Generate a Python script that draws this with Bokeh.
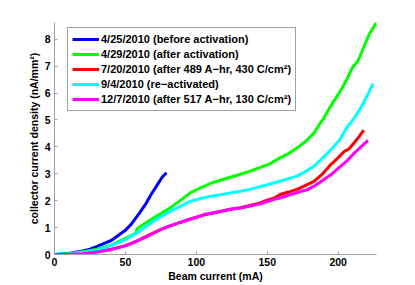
from bokeh.plotting import figure
from bokeh.models import Legend, LegendItem, FixedTicker, Range1d
from bokeh.embed import file_html
from bokeh.resources import INLINE

# ---- data ----
blue_x = [0, 10, 20, 25, 30, 40, 50, 54, 60, 64, 68, 72, 76, 79]
blue_y = [0, 0.04, 0.13, 0.2, 0.3, 0.52, 0.9, 1.12, 1.55, 1.85, 2.22, 2.55, 2.88, 3.04]

green_x = [0, 10, 20, 30, 40, 46, 52, 57.5, 58.5, 65, 75, 82, 89, 96, 103, 110, 117, 124,
           131, 138, 145, 152, 159, 165, 171, 177, 183, 187, 190, 194, 197, 200, 203, 206,
           210, 214, 218, 222, 225, 227]
green_y = [0, 0.03, 0.1, 0.2, 0.35, 0.5, 0.65, 0.8, 0.97, 1.2, 1.52, 1.75, 2.02, 2.3, 2.48,
           2.64, 2.76, 2.87, 2.98, 3.1, 3.24, 3.37, 3.59, 3.75, 3.96, 4.2, 4.52, 4.85, 5.08,
           5.45, 5.7, 5.95, 6.2, 6.5, 6.94, 7.2, 7.7, 8.2, 8.45, 8.62]

red_x = [0, 10, 20, 30, 40, 50, 55, 60, 68, 75, 82, 89, 96, 103, 106, 110, 117, 124, 131,
         138, 145, 150, 155, 159, 165, 171, 177, 183, 189, 195, 200, 204, 206, 207, 208,
         212, 215, 218]
red_y = [0, 0.01, 0.04, 0.1, 0.2, 0.33, 0.43, 0.55, 0.76, 0.93, 1.07, 1.2, 1.32, 1.43, 1.48,
         1.52, 1.6, 1.68, 1.74, 1.82, 1.92, 2.02, 2.1, 2.23, 2.32, 2.42, 2.57, 2.72, 3.0,
         3.35, 3.6, 3.82, 3.88, 3.9, 3.95, 4.2, 4.4, 4.62]

cyan_x = [0, 10, 20, 30, 40, 50, 54, 60, 68, 75, 82, 89, 96, 103, 110, 117, 124, 131, 138,
          145, 152, 159, 165, 171, 177, 183, 189, 195, 201, 206, 211, 216, 220, 224.5]
cyan_y = [0, 0.02, 0.07, 0.16, 0.33, 0.55, 0.68, 0.86, 1.17, 1.4, 1.61, 1.8, 1.98, 2.08, 2.16,
          2.22, 2.29, 2.35, 2.42, 2.52, 2.62, 2.72, 2.82, 2.91, 3.08, 3.28, 3.58, 3.9, 4.25,
          4.7, 5.05, 5.45, 5.85, 6.35]

magenta_x = [0, 10, 20, 30, 40, 50, 55, 60, 68, 75, 82, 89, 96, 103, 106, 110, 117, 124, 131,
             138, 145, 150, 155, 159, 165, 170, 174, 178, 183, 189, 195, 200, 206, 211, 216,
             221]
magenta_y = [0, 0.01, 0.03, 0.09, 0.18, 0.32, 0.42, 0.54, 0.74, 0.93, 1.07, 1.2, 1.32, 1.43,
             1.5, 1.52, 1.6, 1.68, 1.73, 1.8, 1.88, 1.97, 2.05, 2.1, 2.2, 2.28, 2.35, 2.4,
             2.54, 2.75, 2.97, 3.2, 3.47, 3.75, 4.0, 4.24]

labels = [
    "4/25/2010 (before activation)",
    "4/29/2010 (after activation)",
    "7/20/2010 (after 489 A\u2212hr, 430 C/cm\u00b2)",
    "9/4/2010 (re\u2212activated)",
    "12/7/2010 (after 517 A\u2212hr, 130 C/cm\u00b2)",
]
x_ticks = [0, 50, 100, 150, 200]
y_ticks = [0, 1, 2, 3, 4, 5, 6, 7, 8]

FONT = "Liberation Sans"

p = figure(width=415, height=285, output_backend="svg", toolbar_location=None,
           x_range=Range1d(0, 227), y_range=Range1d(0, 8.62),
           min_border_left=54, min_border_right=39, min_border_top=22, min_border_bottom=31)
p.grid.visible = False
p.outline_line_color = None
p.background_fill_color = "white"
p.border_fill_color = "white"

series = [
    (blue_x, blue_y, "#0000ff"),
    (green_x, green_y, "#00ff00"),
    (red_x, red_y, "#ff0000"),
    (cyan_x, cyan_y, "#00ffff"),
    (magenta_x, magenta_y, "#ff00ff"),
]
items = []
for (xs, ys, c), lab in zip(series, labels):
    r = p.line(xs, ys, line_color=c, line_width=3)
    items.append(LegendItem(label=lab, renderers=[r]))

for ax in (p.xaxis[0], p.yaxis[0]):
    ax.axis_line_color = "#a0a0a0"
    ax.axis_line_width = 1
    ax.major_tick_line_color = "#a0a0a0"
    ax.major_tick_in = 3
    ax.major_tick_out = 0
    ax.minor_tick_line_color = None
    ax.major_label_text_font = FONT
    ax.major_label_text_font_style = "bold"
    ax.major_label_text_font_size = "10.5px"
    ax.major_label_text_color = "black"
    ax.axis_label_text_font = FONT
    ax.axis_label_text_font_style = "bold"
    ax.axis_label_text_font_size = "10.5px"
    ax.axis_label_text_color = "black"

p.xaxis.ticker = FixedTicker(ticks=x_ticks)
p.yaxis.ticker = FixedTicker(ticks=y_ticks)
p.xaxis.axis_label = "Beam current (mA)"
p.yaxis.axis_label = "collector current density (nA/mm\u00b2)"
p.xaxis.major_label_standoff = 3
p.xaxis.axis_label_standoff = 1
p.yaxis.major_label_standoff = 4
p.yaxis.axis_label_standoff = 2

legend = Legend(items=items, location=(13, 143))
legend.label_text_font = FONT
legend.label_text_font_style = "bold"
legend.label_text_font_size = "11px"
legend.label_text_color = "black"
legend.glyph_width = 27
legend.glyph_height = 14
legend.label_height = 14
legend.label_standoff = 2
legend.spacing = 1
legend.padding = 4
legend.margin = 0
legend.border_line_color = "#444444"
legend.border_line_width = 1
legend.background_fill_color = "white"
legend.background_fill_alpha = 1
p.add_layout(legend)

open("out.html", "w").write(file_html(p, INLINE))
